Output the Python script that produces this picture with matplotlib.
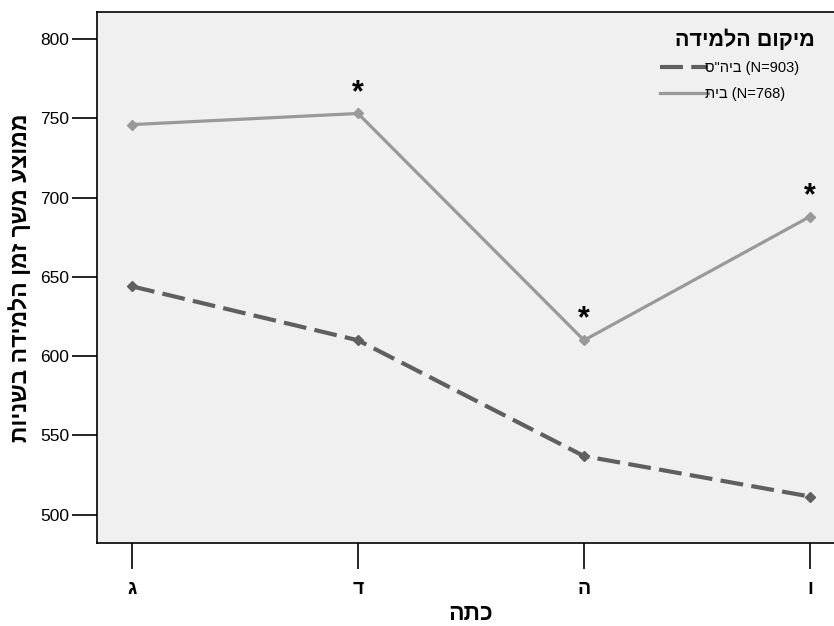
import numpy as np
import matplotlib
matplotlib.use("Agg")
from matplotlib import pyplot as plt

plt.rcParams['font.family'] = ['Liberation Sans', 'DejaVu Sans']

# Data (grades); Hebrew written in visual order
grades = ["ג", "ד", "ה", "ו"]
school = [644, 610, 537, 511.5]   # ביה"ס (N=903)
home = [746, 753, 610, 688]       # בית (N=768)
star_idx = [1, 2, 3]              # significant differences
yticks = [500, 550, 600, 650, 700, 750, 800]

lbl_school = 'ס"היב (N=903)'
lbl_home = 'תיב (N=768)'
leg_title = "מיקום הלמידה"[::-1]
x_label = "כתה"[::-1]
y_label = "ממוצע משך זמן הלמידה בשניות"[::-1]

fig = plt.figure(figsize=(8.34, 6.26), dpi=100)
ax = fig.add_axes([97/834, 83/626, 748/834, 531.5/626])
ax.set_facecolor("#f0f0f0")

x = np.arange(len(grades))
ax.plot(x, school, color="#5f5f5f", lw=3, ls=(0, (5.5, 2)),
        marker="D", ms=5, label=lbl_school)
ax.plot(x, home, color="#999999", lw=2.3, ls="-",
        marker="D", ms=5, label=lbl_home)

for i in star_idx:
    ax.annotate("*", (x[i], home[i]), xytext=(0, 4), textcoords="offset points",
                ha="center", va="bottom", fontsize=22, fontweight="bold")

ax.set_xlim(-0.155, 3.155)
ax.set_ylim(482.2, 817.3)
ax.set_xticks(x)
ax.set_xticklabels(grades, fontsize=14, fontweight="bold")
ax.set_yticks(yticks)
ax.tick_params(axis="y", length=18, width=1.2, labelsize=12.5, pad=2)
ax.tick_params(axis="x", length=19, width=1.2, pad=8)
for s in ax.spines.values():
    s.set_linewidth(1.2)

ax.set_xlabel(x_label, fontsize=16.5, fontweight="bold", labelpad=3)
ax.set_ylabel(y_label, fontsize=16.5, fontweight="bold", labelpad=6)

# legend: title as separate text, entries below it
fig.text(815/834, 1-40/626, leg_title, ha="right", va="center",
         fontsize=15.5, fontweight="bold")
leg = ax.legend(loc="upper left", bbox_to_anchor=(660/834, 1-61/626),
                bbox_transform=fig.transFigure, frameon=False,
                borderpad=0, borderaxespad=0,
                fontsize=10.5, handlelength=3.3, handletextpad=-0.2,
                labelspacing=0.85)
for ln in leg.get_lines():
    ln.set_marker("")

fig.savefig("out.png", dpi=100)
